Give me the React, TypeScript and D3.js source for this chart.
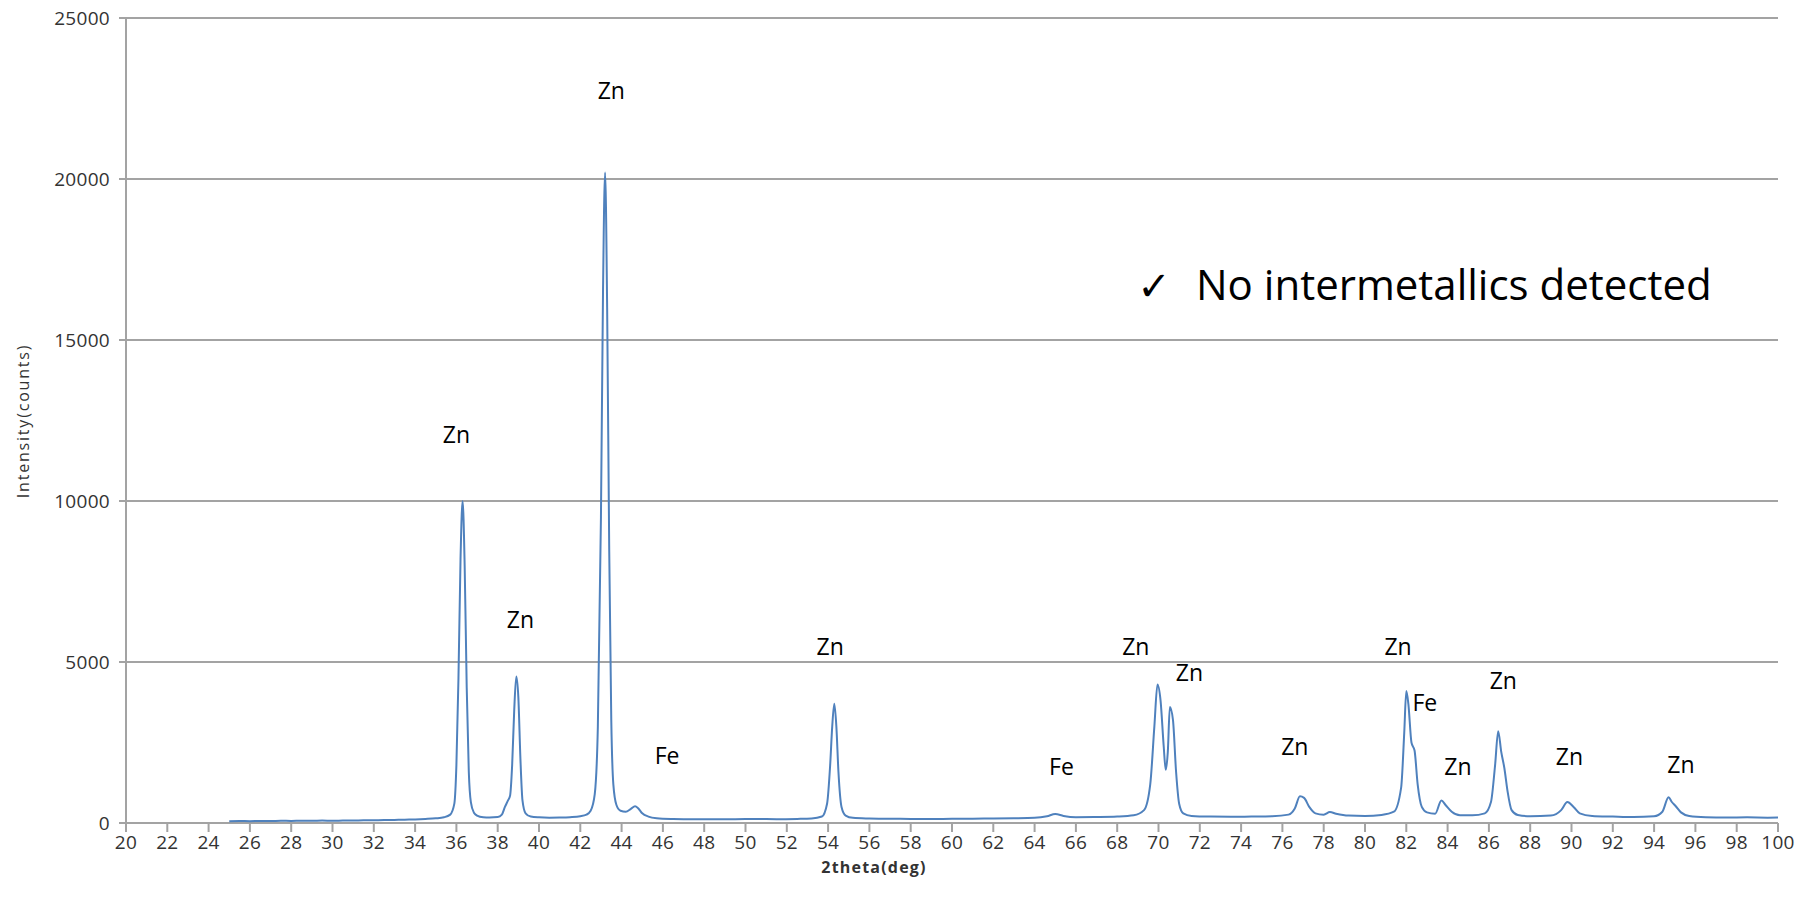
import React from 'react';
import * as d3 from 'd3';

// XRD scan (2theta in deg, intensity in counts)
const twoTheta = [
  25, 25.5, 26, 26.5, 27, 27.5, 28, 28.5, 29, 29.5, 30, 30.5, 31, 31.5, 32, 32.5, 33, 33.5, 34, 34.5,
  35, 35.4, 35.7, 35.9, 36.0, 36.1, 36.2, 36.3, 36.4, 36.5, 36.6, 36.7, 36.85, 37.0, 37.3, 37.6,
  38.0, 38.2, 38.35, 38.5, 38.6, 38.7, 38.8, 38.9, 39.0, 39.1, 39.2, 39.35, 39.6, 40, 40.5, 41, 41.5,
  42, 42.3, 42.5, 42.7, 42.85, 43.0, 43.1, 43.2, 43.3, 43.4, 43.5, 43.6, 43.75, 43.95, 44.2, 44.45,
  44.65, 44.8, 45.0, 45.3, 45.7, 46.5, 47.5, 48.5, 49.5, 50.5, 51.5, 52.5, 53.2, 53.7, 53.95, 54.1,
  54.2, 54.3, 54.4, 54.5, 54.65, 54.85, 55.2, 56, 57, 58, 59, 60, 61, 62, 63, 64, 64.6, 65.0, 65.4,
  66, 67, 68, 68.8, 69.3, 69.6, 69.8, 69.95, 70.1, 70.25, 70.35, 70.45, 70.55, 70.7, 70.85, 71.0,
  71.2, 71.6, 72.5, 73.5, 74.5, 75.5, 76.3, 76.6, 76.85, 77.05, 77.3, 77.6, 78.0, 78.3, 78.6, 79.2,
  80, 80.8, 81.4, 81.75, 81.9, 82.0, 82.1, 82.25, 82.4, 82.55, 82.75, 83.0, 83.4, 83.7, 83.9, 84.2,
  84.6, 85.2, 85.8, 86.1, 86.3, 86.45, 86.6, 86.75, 86.9, 87.1, 87.4, 88, 89, 89.5, 89.8, 90.1, 90.4,
  91, 92, 93, 94, 94.4, 94.7, 94.85, 95.05, 95.3, 95.7, 96.5, 97.5, 98.5, 99.5, 100
];
const counts = [
  55, 62, 58, 66, 61, 69, 65, 72, 67, 74, 70, 76, 79, 82, 85, 90, 96, 104, 112, 126,
  146, 178, 260, 600, 1800, 4500, 8200, 10000, 8000, 4200, 1600, 650, 320, 230, 180, 172,
  185, 260, 500, 700, 850, 1800, 3500, 4550, 3900, 2000, 700, 300, 200, 175, 165, 170, 182,
  210, 260, 380, 900, 3000, 9500, 16500, 20200, 16000, 8500, 3200, 1200, 560, 380, 350, 440,
  520, 460, 300, 200, 150, 125, 115, 120, 118, 126, 120, 128, 140, 200, 600, 1800,
  3000, 3700, 3000, 1600, 500, 230, 160, 140, 130, 128, 125, 130, 132, 140, 146, 160, 210, 280, 220,
  180, 185, 200, 240, 400, 1200, 3000, 4300, 3800, 2400, 1650, 2200, 3600, 3200, 1600, 600,
  300, 220, 200, 195, 200, 210, 260, 450, 830, 780, 500, 300, 260, 340, 290, 230,
  220, 250, 350, 1100, 2800, 4100, 3700, 2500, 2250, 1200, 500, 330, 290, 700, 560, 350,
  240, 240, 300, 650, 1800, 2850, 2200, 1700, 1000, 400, 250, 210, 230, 400, 650, 500, 300,
  220, 200, 185, 210, 350, 800, 660, 520, 330, 220, 180, 170, 175, 165, 170
];

// phase labels placed on the plot (text centre in data units)
const peakLabels = ['Zn', 'Zn', 'Zn', 'Fe', 'Zn', 'Fe', 'Zn', 'Zn', 'Zn', 'Zn', 'Fe', 'Zn', 'Zn', 'Zn', 'Zn'];
const labelTheta = [43.5, 36.0, 39.1, 46.2, 54.1, 65.3, 68.9, 71.5, 76.6, 81.6, 82.9, 84.5, 86.7, 89.9, 95.3];
const labelCounts = [22750, 12060, 6310, 2080, 5470, 1740, 5470, 4660, 2360, 5470, 3730, 1740, 4410, 2050, 1800];

const xTicks = [20, 22, 24, 26, 28, 30, 32, 34, 36, 38, 40, 42, 44, 46, 48, 50, 52, 54, 56, 58, 60,
  62, 64, 66, 68, 70, 72, 74, 76, 78, 80, 82, 84, 86, 88, 90, 92, 94, 96, 98, 100];
const yTicks = [0, 5000, 10000, 15000, 20000, 25000];

const W = 1810;
const H = 905;
const plot = {left: 126, right: 1778, top: 18, bottom: 823};
const font = "'Open Sans', 'Noto Sans', sans-serif";

export default function App() {
  const x = d3.scaleLinear().domain([20, 100]).range([plot.left, plot.right]);
  const y = d3.scaleLinear().domain([0, 25000]).range([plot.bottom, plot.top]);

  const line = d3.line<number>()
    .x((d, i) => x(twoTheta[i]))
    .y(d => y(d))
    .curve(d3.curveMonotoneX);

  const grid = '#a3a3a3';

  return (
    <svg width={W} height={H} style={{position: 'absolute', left: 0, top: 0, background: '#fff'}}>
      {/* horizontal gridlines + y ticks */}
      {yTicks.map(t => (
        <g key={t}>
          <line x1={plot.left - 7} x2={plot.right} y1={y(t)} y2={y(t)} stroke={grid} strokeWidth={2} />
          <text x={plot.left - 16} y={y(t)} dy="0.36em" textAnchor="end"
            fontFamily={font} fontSize={19} fill="#333" letterSpacing={0.3}>{t}</text>
        </g>
      ))}
      {/* y axis line */}
      <line x1={plot.left} x2={plot.left} y1={plot.top} y2={plot.bottom + 1} stroke={grid} strokeWidth={2} />

      {/* x ticks */}
      {xTicks.map(t => (
        <g key={t}>
          <line x1={x(t)} x2={x(t)} y1={plot.bottom} y2={plot.bottom + 9} stroke={grid} strokeWidth={2} />
          <text x={x(t)} y={842} dy="0.36em" textAnchor="middle"
            fontFamily={font} fontSize={19} fill="#333" letterSpacing={0.3}>{t}</text>
        </g>
      ))}

      {/* the scan */}
      <path d={line(counts) || ''} fill="none" stroke="#4f81bd" strokeWidth={2} strokeLinejoin="round" />

      {/* phase labels */}
      {peakLabels.map((lab, i) => (
        <text key={i} x={x(labelTheta[i])} y={y(labelCounts[i])} dy="0.35em" textAnchor="middle"
          fontFamily={font} fontSize={23} fill="#000">{lab}</text>
      ))}

      {/* note */}
      <text x={1154} y={300} textAnchor="middle" fontFamily="'DejaVu Sans', sans-serif" fontSize={40} fill="#000">✓</text>
      <text x={1196} y={300} fontFamily={font} fontSize={42} fill="#000">No intermetallics detected</text>

      {/* axis titles */}
      <text x={874} y={867} dy="0.35em" textAnchor="middle" fontFamily={font} fontSize={16}
        fontWeight="bold" fill="#333" letterSpacing={1.2}>2theta(deg)</text>
      <text transform={`translate(23,421) rotate(-90)`} dy="0.35em" textAnchor="middle" fontFamily={font}
        fontSize={16} fill="#333" letterSpacing={1.8}>Intensity(counts)</text>
    </svg>
  );
}
